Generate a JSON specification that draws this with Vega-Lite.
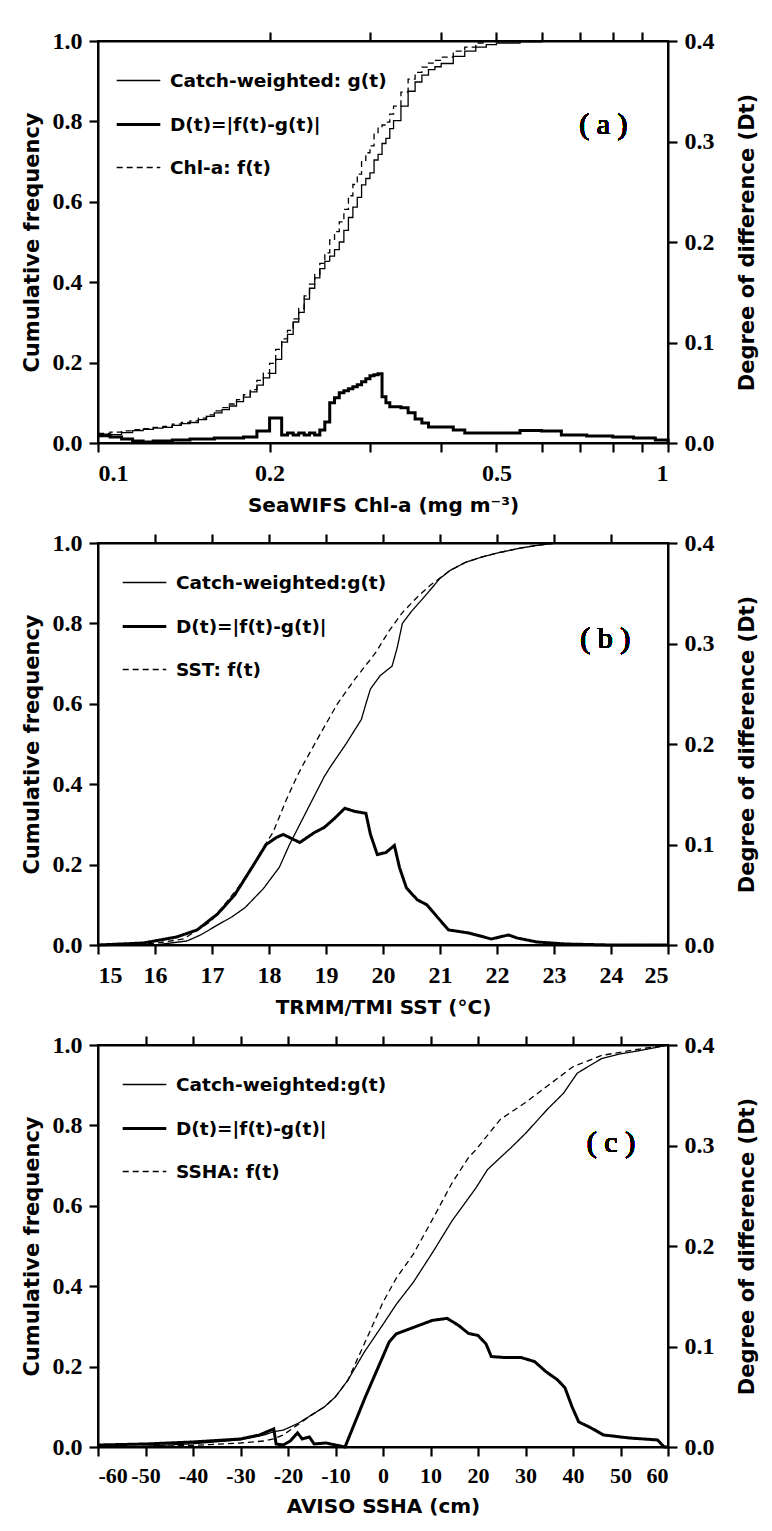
{
 "$schema": "https://vega.github.io/schema/vega-lite/v6.json",
 "padding": {"left": 20, "top": 28, "right": 5, "bottom": 5},
 "spacing": 14,
 "config": {
  "view": {"stroke": "black", "strokeWidth": 2},
  "axis": {"labelFont": "Liberation Serif", "labelFontSize": 24, "labelFontWeight": "bold", "labelColor": "black",
           "titleFont": "DejaVu Sans", "titleFontSize": 20, "titleFontWeight": "bold", "titleColor": "black",
           "domainColor": "black", "domainWidth": 2, "tickColor": "black", "tickWidth": 2.2, "tickSize": 9, "ticks": true,
           "grid": false, "labelPadding": 7, "titlePadding": 10, "labelOverlap": false},
  "axisX": {"labelPadding": 9, "titlePadding": 10},
  "axisY": {"titleFontSize": 21},
  "axisRight": {"titlePadding": 22},
  "legend": {"labelFont": "DejaVu Sans", "labelFontSize": 18.5, "labelFontWeight": "bold", "labelColor": "black",
             "symbolStrokeColor": "black", "symbolType": "stroke", "symbolSize": 1900, "rowPadding": 11,
             "labelOffset": 8, "padding": 0, "labelLimit": 400}
 },
 "datasets": {
  "a": [
   {"x":0.100,"f":0.024,"g":0.016,"D":0.008},{"x":0.105,"f":0.027,"g":0.021,"D":0.006},{"x":0.110,"f":0.030,"g":0.026,"D":0.004},
   {"x":0.115,"f":0.033,"g":0.031,"D":0.002},{"x":0.120,"f":0.036,"g":0.034,"D":0.001},{"x":0.125,"f":0.039,"g":0.037,"D":0.002},
   {"x":0.130,"f":0.041,"g":0.039,"D":0.002},{"x":0.135,"f":0.047,"g":0.044,"D":0.003},{"x":0.140,"f":0.051,"g":0.048,"D":0.003},
   {"x":0.145,"f":0.055,"g":0.051,"D":0.004},{"x":0.150,"f":0.062,"g":0.058,"D":0.004},{"x":0.155,"f":0.070,"g":0.066,"D":0.004},
   {"x":0.160,"f":0.080,"g":0.075,"D":0.005},{"x":0.165,"f":0.088,"g":0.083,"D":0.005},{"x":0.170,"f":0.097,"g":0.092,"D":0.005},
   {"x":0.175,"f":0.108,"g":0.103,"D":0.005},{"x":0.180,"f":0.120,"g":0.114,"D":0.006},{"x":0.185,"f":0.133,"g":0.127,"D":0.006},
   {"x":0.190,"f":0.156,"g":0.144,"D":0.012},{"x":0.195,"f":0.174,"g":0.162,"D":0.012},{"x":0.200,"f":0.198,"g":0.173,"D":0.025},
   {"x":0.205,"f":0.233,"g":0.208,"D":0.025},{"x":0.210,"f":0.259,"g":0.251,"D":0.008},{"x":0.215,"f":0.280,"g":0.270,"D":0.010},
   {"x":0.220,"f":0.309,"g":0.301,"D":0.008},{"x":0.225,"f":0.335,"g":0.325,"D":0.010},{"x":0.230,"f":0.366,"g":0.358,"D":0.008},
   {"x":0.235,"f":0.395,"g":0.385,"D":0.010},{"x":0.240,"f":0.419,"g":0.411,"D":0.008},{"x":0.245,"f":0.447,"g":0.434,"D":0.013},
   {"x":0.250,"f":0.473,"g":0.452,"D":0.021},{"x":0.255,"f":0.505,"g":0.465,"D":0.040},{"x":0.260,"f":0.526,"g":0.481,"D":0.045},
   {"x":0.265,"f":0.550,"g":0.500,"D":0.050},{"x":0.270,"f":0.581,"g":0.529,"D":0.052},{"x":0.275,"f":0.615,"g":0.561,"D":0.054},
   {"x":0.280,"f":0.643,"g":0.587,"D":0.056},{"x":0.285,"f":0.669,"g":0.611,"D":0.058},{"x":0.290,"f":0.703,"g":0.642,"D":0.061},
   {"x":0.295,"f":0.722,"g":0.658,"D":0.064},{"x":0.300,"f":0.739,"g":0.672,"D":0.067},{"x":0.305,"f":0.772,"g":0.704,"D":0.068},
   {"x":0.310,"f":0.787,"g":0.718,"D":0.069},{"x":0.315,"f":0.791,"g":0.745,"D":0.046},{"x":0.320,"f":0.798,"g":0.758,"D":0.040},
   {"x":0.325,"f":0.818,"g":0.782,"D":0.036},{"x":0.330,"f":0.838,"g":0.802,"D":0.036},{"x":0.340,"f":0.873,"g":0.838,"D":0.035},
   {"x":0.350,"f":0.905,"g":0.875,"D":0.030},{"x":0.360,"f":0.922,"g":0.898,"D":0.024},{"x":0.370,"f":0.935,"g":0.915,"D":0.020},
   {"x":0.380,"f":0.945,"g":0.929,"D":0.016},{"x":0.390,"f":0.952,"g":0.936,"D":0.016},{"x":0.400,"f":0.960,"g":0.944,"D":0.016},
   {"x":0.420,"f":0.975,"g":0.962,"D":0.013},{"x":0.440,"f":0.985,"g":0.975,"D":0.010},{"x":0.460,"f":0.995,"g":0.985,"D":0.010},
   {"x":0.480,"f":1.000,"g":0.991,"D":0.010},{"x":0.500,"f":1.000,"g":0.995,"D":0.010},{"x":0.550,"f":1.000,"g":0.998,"D":0.0125},
   {"x":0.600,"f":1.000,"g":1.000,"D":0.012},{"x":0.650,"f":1.000,"g":1.000,"D":0.008},{"x":0.720,"f":1.000,"g":1.000,"D":0.007},
   {"x":0.800,"f":1.000,"g":1.000,"D":0.006},{"x":0.870,"f":1.000,"g":1.000,"D":0.005},{"x":0.950,"f":1.000,"g":1.000,"D":0.003},
   {"x":1.000,"f":1.000,"g":1.000,"D":0.000}
  ],
  "b": [
   {"s":"f","x":15,"v":0},{"s":"f","x":15.5,"v":0.001},{"s":"f","x":16,"v":0.004},{"s":"f","x":16.5,"v":0.015},
   {"s":"f","x":16.99,"v":0.06},{"s":"f","x":17.46,"v":0.143},{"s":"f","x":17.77,"v":0.21},{"s":"f","x":17.9,"v":0.243},
   {"s":"f","x":18.07,"v":0.28},{"s":"f","x":18.3,"v":0.36},{"s":"f","x":18.49,"v":0.419},{"s":"f","x":18.58,"v":0.444},
   {"s":"f","x":18.9,"v":0.525},{"s":"f","x":19.2,"v":0.6},{"s":"f","x":19.5,"v":0.66},{"s":"f","x":19.87,"v":0.727},
   {"s":"f","x":20.1,"v":0.78},{"s":"f","x":20.34,"v":0.827},{"s":"f","x":20.6,"v":0.865},{"s":"f","x":20.83,"v":0.895},
   {"s":"f","x":21.18,"v":0.932},{"s":"f","x":21.45,"v":0.952},{"s":"f","x":21.73,"v":0.965},{"s":"f","x":22,"v":0.975},
   {"s":"f","x":22.4,"v":0.987},{"s":"f","x":22.7,"v":0.994},{"s":"f","x":23.05,"v":1},{"s":"f","x":25,"v":1},
   {"s":"g","x":15,"v":0},{"s":"g","x":16,"v":0},{"s":"g","x":16.56,"v":0.01},{"s":"g","x":16.8,"v":0.025},
   {"s":"g","x":17.1,"v":0.05},{"s":"g","x":17.35,"v":0.07},{"s":"g","x":17.58,"v":0.093},{"s":"g","x":17.9,"v":0.14},
   {"s":"g","x":18.18,"v":0.193},{"s":"g","x":18.36,"v":0.25},{"s":"g","x":18.67,"v":0.336},{"s":"g","x":18.97,"v":0.419},
   {"s":"g","x":19.08,"v":0.444},{"s":"g","x":19.35,"v":0.5},{"s":"g","x":19.62,"v":0.561},{"s":"g","x":19.7,"v":0.6},
   {"s":"g","x":19.78,"v":0.637},{"s":"g","x":19.95,"v":0.67},{"s":"g","x":20.16,"v":0.694},{"s":"g","x":20.25,"v":0.74},
   {"s":"g","x":20.34,"v":0.8},{"s":"g","x":20.5,"v":0.83},{"s":"g","x":20.7,"v":0.862},{"s":"g","x":21,"v":0.912},
   {"s":"g","x":21.18,"v":0.932},{"s":"g","x":21.45,"v":0.952},{"s":"g","x":21.73,"v":0.965},{"s":"g","x":22,"v":0.975},
   {"s":"g","x":22.4,"v":0.987},{"s":"g","x":22.7,"v":0.994},{"s":"g","x":23.05,"v":1},{"s":"g","x":25,"v":1},
   {"s":"D","x":15,"v":0},{"s":"D","x":15.8,"v":0.002},{"s":"D","x":16.38,"v":0.008},{"s":"D","x":16.74,"v":0.015},
   {"s":"D","x":17.1,"v":0.031},{"s":"D","x":17.4,"v":0.05},{"s":"D","x":17.7,"v":0.077},{"s":"D","x":17.95,"v":0.1},
   {"s":"D","x":18.13,"v":0.107},{"s":"D","x":18.25,"v":0.11},{"s":"D","x":18.43,"v":0.105},{"s":"D","x":18.54,"v":0.102},
   {"s":"D","x":18.8,"v":0.112},{"s":"D","x":18.97,"v":0.117},{"s":"D","x":19.15,"v":0.126},{"s":"D","x":19.33,"v":0.136},
   {"s":"D","x":19.5,"v":0.133},{"s":"D","x":19.7,"v":0.131},{"s":"D","x":19.78,"v":0.11},{"s":"D","x":19.9,"v":0.09},
   {"s":"D","x":20.05,"v":0.092},{"s":"D","x":20.2,"v":0.099},{"s":"D","x":20.29,"v":0.077},{"s":"D","x":20.41,"v":0.057},
   {"s":"D","x":20.6,"v":0.045},{"s":"D","x":20.77,"v":0.04},{"s":"D","x":20.95,"v":0.028},{"s":"D","x":21.15,"v":0.015},
   {"s":"D","x":21.5,"v":0.012},{"s":"D","x":21.9,"v":0.006},{"s":"D","x":22.2,"v":0.01},{"s":"D","x":22.35,"v":0.007},
   {"s":"D","x":22.7,"v":0.003},{"s":"D","x":23.2,"v":0.001},{"s":"D","x":24,"v":0},{"s":"D","x":25,"v":0}
  ],
  "c": [
   {"s":"f","x":-60,"v":0},{"s":"f","x":-50,"v":0.001},{"s":"f","x":-40,"v":0.004},{"s":"f","x":-30,"v":0.01},
   {"s":"f","x":-25,"v":0.015},{"s":"f","x":-23,"v":0.02},{"s":"f","x":-21,"v":0.03},{"s":"f","x":-18,"v":0.055},
   {"s":"f","x":-15,"v":0.08},{"s":"f","x":-12.3,"v":0.1},{"s":"f","x":-10,"v":0.125},{"s":"f","x":-7.4,"v":0.166},
   {"s":"f","x":-4,"v":0.255},{"s":"f","x":0,"v":0.36},{"s":"f","x":2.8,"v":0.42},{"s":"f","x":6.4,"v":0.48},
   {"s":"f","x":10.6,"v":0.57},{"s":"f","x":14.5,"v":0.656},{"s":"f","x":18,"v":0.72},{"s":"f","x":19.6,"v":0.74},
   {"s":"f","x":24.7,"v":0.815},{"s":"f","x":30,"v":0.857},{"s":"f","x":34.6,"v":0.898},{"s":"f","x":40,"v":0.946},
   {"s":"f","x":46,"v":0.974},{"s":"f","x":54,"v":0.99},{"s":"f","x":60,"v":1},
   {"s":"g","x":-60,"v":0},{"s":"g","x":-50,"v":0.002},{"s":"g","x":-40,"v":0.008},{"s":"g","x":-30,"v":0.018},
   {"s":"g","x":-25,"v":0.03},{"s":"g","x":-23,"v":0.038},{"s":"g","x":-21,"v":0.042},{"s":"g","x":-18,"v":0.058},
   {"s":"g","x":-15,"v":0.08},{"s":"g","x":-12.3,"v":0.1},{"s":"g","x":-10,"v":0.125},{"s":"g","x":-7.4,"v":0.166},
   {"s":"g","x":-4,"v":0.235},{"s":"g","x":0,"v":0.305},{"s":"g","x":2.8,"v":0.355},{"s":"g","x":6.4,"v":0.41},
   {"s":"g","x":10.6,"v":0.487},{"s":"g","x":14.5,"v":0.562},{"s":"g","x":19.6,"v":0.645},{"s":"g","x":22,"v":0.69},
   {"s":"g","x":24.7,"v":0.72},{"s":"g","x":27,"v":0.745},{"s":"g","x":30,"v":0.78},{"s":"g","x":34.6,"v":0.84},
   {"s":"g","x":38,"v":0.88},{"s":"g","x":40.9,"v":0.93},{"s":"g","x":43,"v":0.945},{"s":"g","x":46,"v":0.966},
   {"s":"g","x":50,"v":0.978},{"s":"g","x":54,"v":0.986},{"s":"g","x":58,"v":0.995},{"s":"g","x":60,"v":1},
   {"s":"D","x":-60,"v":0.002},{"s":"D","x":-50,"v":0.003},{"s":"D","x":-40,"v":0.005},{"s":"D","x":-30,"v":0.008},
   {"s":"D","x":-26,"v":0.012},{"s":"D","x":-24,"v":0.016},{"s":"D","x":-23,"v":0.018},{"s":"D","x":-22.5,"v":0.003},
   {"s":"D","x":-21,"v":0.002},{"s":"D","x":-19.5,"v":0.006},{"s":"D","x":-18,"v":0.014},{"s":"D","x":-17,"v":0.008},
   {"s":"D","x":-15.5,"v":0.01},{"s":"D","x":-14.5,"v":0.003},{"s":"D","x":-12,"v":0.004},{"s":"D","x":-10,"v":0.002},
   {"s":"D","x":-8,"v":0},{"s":"D","x":-3.7,"v":0.05},{"s":"D","x":1.3,"v":0.1045},{"s":"D","x":2.8,"v":0.1126},
   {"s":"D","x":7,"v":0.12},{"s":"D","x":10.4,"v":0.126},{"s":"D","x":13.5,"v":0.128},{"s":"D","x":15.9,"v":0.121},
   {"s":"D","x":18,"v":0.113},{"s":"D","x":20,"v":0.111},{"s":"D","x":21.7,"v":0.1025},{"s":"D","x":22.8,"v":0.09},
   {"s":"D","x":25.7,"v":0.089},{"s":"D","x":29.1,"v":0.089},{"s":"D","x":31.9,"v":0.085},{"s":"D","x":34.3,"v":0.075},
   {"s":"D","x":36.7,"v":0.067},{"s":"D","x":38.3,"v":0.059},{"s":"D","x":39.8,"v":0.04},{"s":"D","x":41.2,"v":0.025},
   {"s":"D","x":43.8,"v":0.019},{"s":"D","x":46.4,"v":0.012},{"s":"D","x":51.8,"v":0.009},{"s":"D","x":57.8,"v":0.007},
   {"s":"D","x":59.2,"v":0},{"s":"D","x":60,"v":0}
  ]
 },
 "resolve": {"scale": {"strokeDash": "independent", "strokeWidth": "independent"}, "legend": {"strokeDash": "independent", "strokeWidth": "independent"}},
 "vconcat": [
  {
   "width": 570, "height": 402,
   "data": {"name": "a"},
   "layer": [
    {"mark": {"type": "line", "interpolate": "step-after", "color": "black"},
     "encoding": {
      "x": {"field": "x", "type": "quantitative", "scale": {"type": "log", "domain": [0.1, 1], "nice": false},
            "axis": {"orient": "bottom", "title": "SeaWIFS Chl-a (mg m⁻³)", "values": [0.1,0.2,0.3,0.4,0.5,0.6,0.7,0.8,0.9,1],
                     "labelExpr": "(datum.value==0.1||datum.value==0.2||datum.value==0.5) ? format(datum.value,'.1f') : (datum.value==1 ? '1' : '')"}},
      "y": {"field": "g", "type": "quantitative", "scale": {"domain": [0, 1], "nice": false},
            "axis": {"title": "Cumulative frequency", "values": [0,0.2,0.4,0.6,0.8,1], "format": ".1f"}},
      "strokeDash": {"datum": "Catch-weighted: g(t)", "type": "nominal",
                     "scale": {"domain": ["Catch-weighted: g(t)", "D(t)=|f(t)-g(t)|", "Chl-a: f(t)"], "range": [[1,0],[1,0],[6,4]]},
                     "legend": {"title": null, "orient": "none", "legendX": 17, "legendY": 17}},
      "strokeWidth": {"datum": "Catch-weighted: g(t)", "type": "ordinal",
                     "scale": {"type": "ordinal", "domain": ["Catch-weighted: g(t)", "D(t)=|f(t)-g(t)|", "Chl-a: f(t)"], "range": [1.3, 3, 1.3]},
                     "legend": {"title": null, "orient": "none", "legendX": 17, "legendY": 17}}
     }},
    {"mark": {"type": "line", "interpolate": "step-after", "color": "black"},
     "encoding": {
      "x": {"field": "x", "type": "quantitative", "scale": {"type": "log", "domain": [0.1, 1], "nice": false},
            "axis": {"orient": "top", "labels": false, "title": null, "values": [0.2,0.3,0.4,0.5,0.6,0.7,0.8,0.9]}},
      "y": {"field": "f", "type": "quantitative", "scale": {"domain": [0, 1], "nice": false}, "axis": null},
      "strokeDash": {"datum": "Chl-a: f(t)", "type": "nominal",
                     "scale": {"domain": ["Catch-weighted: g(t)", "D(t)=|f(t)-g(t)|", "Chl-a: f(t)"], "range": [[1,0],[1,0],[6,4]]},
                     "legend": {"title": null, "orient": "none", "legendX": 17, "legendY": 17}},
      "strokeWidth": {"datum": "Chl-a: f(t)", "type": "ordinal",
                     "scale": {"type": "ordinal", "domain": ["Catch-weighted: g(t)", "D(t)=|f(t)-g(t)|", "Chl-a: f(t)"], "range": [1.3, 3, 1.3]},
                     "legend": {"title": null, "orient": "none", "legendX": 17, "legendY": 17}}
     }},
    {"mark": {"type": "text", "font": "Liberation Serif", "fontSize": 30, "color": "black"},
     "encoding": {"x": {"datum": 0.77, "type": "quantitative", "scale": {"type": "log", "domain": [0.1, 1], "nice": false}, "axis": null},
                  "y": {"datum": 0.79, "type": "quantitative", "scale": {"domain": [0, 1], "nice": false}, "axis": null},
                  "text": {"value": "( a )"}}},
    {"mark": {"type": "line", "interpolate": "step-after", "color": "black"},
     "encoding": {
      "x": {"field": "x", "type": "quantitative", "scale": {"type": "log", "domain": [0.1, 1], "nice": false}, "axis": null},
      "y": {"field": "D", "type": "quantitative", "scale": {"domain": [0, 0.4], "nice": false},
            "axis": {"orient": "right", "title": "Degree of difference (Dt)", "values": [0,0.1,0.2,0.3,0.4], "format": ".1f", "titleAngle": 270, "titleBaseline": "top"}},
      "strokeDash": {"datum": "D(t)=|f(t)-g(t)|", "type": "nominal",
                     "scale": {"domain": ["Catch-weighted: g(t)", "D(t)=|f(t)-g(t)|", "Chl-a: f(t)"], "range": [[1,0],[1,0],[6,4]]},
                     "legend": {"title": null, "orient": "none", "legendX": 17, "legendY": 17}},
      "strokeWidth": {"datum": "D(t)=|f(t)-g(t)|", "type": "ordinal",
                     "scale": {"type": "ordinal", "domain": ["Catch-weighted: g(t)", "D(t)=|f(t)-g(t)|", "Chl-a: f(t)"], "range": [1.3, 3, 1.3]},
                     "legend": {"title": null, "orient": "none", "legendX": 17, "legendY": 17}}
     }}
   ],
   "resolve": {"scale": {"y": "independent", "x": "independent"}}
  },
  {
   "width": 570, "height": 402,
   "data": {"name": "b"},
   "layer": [
    {"transform": [{"filter": {"field": "s", "equal": "g"}}],
     "mark": {"type": "line", "color": "black"},
     "encoding": {
      "x": {"field": "x", "type": "quantitative", "scale": {"domain": [15, 25], "nice": false, "zero": false},
            "axis": {"orient": "bottom", "title": "TRMM/TMI SST (°C)", "values": [15,16,17,18,19,20,21,22,23,24,25], "format": "d"}},
      "y": {"field": "v", "type": "quantitative", "scale": {"domain": [0, 1], "nice": false},
            "axis": {"title": "Cumulative frequency", "values": [0,0.2,0.4,0.6,0.8,1], "format": ".1f"}},
      "strokeDash": {"datum": "Catch-weighted:g(t)", "type": "nominal",
                     "scale": {"domain": ["Catch-weighted:g(t)", "D(t)=|f(t)-g(t)|", "SST: f(t)"], "range": [[1,0],[1,0],[6,4]]},
                     "legend": {"title": null, "orient": "none", "legendX": 23, "legendY": 17}},
      "strokeWidth": {"datum": "Catch-weighted:g(t)", "type": "ordinal",
                     "scale": {"type": "ordinal", "domain": ["Catch-weighted:g(t)", "D(t)=|f(t)-g(t)|", "SST: f(t)"], "range": [1.3, 3, 1.3]},
                     "legend": {"title": null, "orient": "none", "legendX": 23, "legendY": 17}}
     }},
    {"transform": [{"filter": {"field": "s", "equal": "f"}}],
     "mark": {"type": "line", "color": "black"},
     "encoding": {
      "x": {"field": "x", "type": "quantitative", "scale": {"domain": [15, 25], "nice": false, "zero": false},
            "axis": {"orient": "top", "labels": false, "title": null, "values": [16,17,18,19,20,21,22,23,24]}},
      "y": {"field": "v", "type": "quantitative", "scale": {"domain": [0, 1], "nice": false}, "axis": null},
      "strokeDash": {"datum": "SST: f(t)", "type": "nominal",
                     "scale": {"domain": ["Catch-weighted:g(t)", "D(t)=|f(t)-g(t)|", "SST: f(t)"], "range": [[1,0],[1,0],[6,4]]},
                     "legend": {"title": null, "orient": "none", "legendX": 23, "legendY": 17}},
      "strokeWidth": {"datum": "SST: f(t)", "type": "ordinal",
                     "scale": {"type": "ordinal", "domain": ["Catch-weighted:g(t)", "D(t)=|f(t)-g(t)|", "SST: f(t)"], "range": [1.3, 3, 1.3]},
                     "legend": {"title": null, "orient": "none", "legendX": 23, "legendY": 17}}
     }},
    {"mark": {"type": "text", "font": "Liberation Serif", "fontSize": 30, "color": "black"},
     "encoding": {"x": {"datum": 23.9, "type": "quantitative", "scale": {"domain": [15, 25], "nice": false, "zero": false}, "axis": null},
                  "y": {"datum": 0.76, "type": "quantitative", "scale": {"domain": [0, 1], "nice": false}, "axis": null},
                  "text": {"value": "( b )"}}},
    {"transform": [{"filter": {"field": "s", "equal": "D"}}],
     "mark": {"type": "line", "color": "black"},
     "encoding": {
      "x": {"field": "x", "type": "quantitative", "scale": {"domain": [15, 25], "nice": false, "zero": false}, "axis": null},
      "y": {"field": "v", "type": "quantitative", "scale": {"domain": [0, 0.4], "nice": false},
            "axis": {"orient": "right", "title": "Degree of difference (Dt)", "values": [0,0.1,0.2,0.3,0.4], "format": ".1f", "titleAngle": 270, "titleBaseline": "top"}},
      "strokeDash": {"datum": "D(t)=|f(t)-g(t)|", "type": "nominal",
                     "scale": {"domain": ["Catch-weighted:g(t)", "D(t)=|f(t)-g(t)|", "SST: f(t)"], "range": [[1,0],[1,0],[6,4]]},
                     "legend": {"title": null, "orient": "none", "legendX": 23, "legendY": 17}},
      "strokeWidth": {"datum": "D(t)=|f(t)-g(t)|", "type": "ordinal",
                     "scale": {"type": "ordinal", "domain": ["Catch-weighted:g(t)", "D(t)=|f(t)-g(t)|", "SST: f(t)"], "range": [1.3, 3, 1.3]},
                     "legend": {"title": null, "orient": "none", "legendX": 23, "legendY": 17}}
     }}
   ],
   "resolve": {"scale": {"y": "independent", "x": "independent"}}
  },
  {
   "width": 570, "height": 402,
   "data": {"name": "c"},
   "layer": [
    {"transform": [{"filter": {"field": "s", "equal": "g"}}],
     "mark": {"type": "line", "color": "black"},
     "encoding": {
      "x": {"field": "x", "type": "quantitative", "scale": {"domain": [-60, 60], "nice": false, "zero": false},
            "axis": {"orient": "bottom", "title": "AVISO SSHA (cm)", "values": [-60,-50,-40,-30,-20,-10,0,10,20,30,40,50,60], "labelExpr": "'' + datum.value", "labelFontSize": 22}},
      "y": {"field": "v", "type": "quantitative", "scale": {"domain": [0, 1], "nice": false},
            "axis": {"title": "Cumulative frequency", "values": [0,0.2,0.4,0.6,0.8,1], "format": ".1f"}},
      "strokeDash": {"datum": "Catch-weighted:g(t)", "type": "nominal",
                     "scale": {"domain": ["Catch-weighted:g(t)", "D(t)=|f(t)-g(t)|", "SSHA: f(t)"], "range": [[1,0],[1,0],[6,4]]},
                     "legend": {"title": null, "orient": "none", "legendX": 23, "legendY": 17}},
      "strokeWidth": {"datum": "Catch-weighted:g(t)", "type": "ordinal",
                     "scale": {"type": "ordinal", "domain": ["Catch-weighted:g(t)", "D(t)=|f(t)-g(t)|", "SSHA: f(t)"], "range": [1.3, 3, 1.3]},
                     "legend": {"title": null, "orient": "none", "legendX": 23, "legendY": 17}}
     }},
    {"transform": [{"filter": {"field": "s", "equal": "f"}}],
     "mark": {"type": "line", "color": "black"},
     "encoding": {
      "x": {"field": "x", "type": "quantitative", "scale": {"domain": [-60, 60], "nice": false, "zero": false},
            "axis": {"orient": "top", "labels": false, "title": null, "values": [-50,-40,-30,-20,-10,0,10,20,30,40,50]}},
      "y": {"field": "v", "type": "quantitative", "scale": {"domain": [0, 1], "nice": false}, "axis": null},
      "strokeDash": {"datum": "SSHA: f(t)", "type": "nominal",
                     "scale": {"domain": ["Catch-weighted:g(t)", "D(t)=|f(t)-g(t)|", "SSHA: f(t)"], "range": [[1,0],[1,0],[6,4]]},
                     "legend": {"title": null, "orient": "none", "legendX": 23, "legendY": 17}},
      "strokeWidth": {"datum": "SSHA: f(t)", "type": "ordinal",
                     "scale": {"type": "ordinal", "domain": ["Catch-weighted:g(t)", "D(t)=|f(t)-g(t)|", "SSHA: f(t)"], "range": [1.3, 3, 1.3]},
                     "legend": {"title": null, "orient": "none", "legendX": 23, "legendY": 17}}
     }},
    {"mark": {"type": "text", "font": "Liberation Serif", "fontSize": 30, "color": "black"},
     "encoding": {"x": {"datum": 48, "type": "quantitative", "scale": {"domain": [-60, 60], "nice": false, "zero": false}, "axis": null},
                  "y": {"datum": 0.755, "type": "quantitative", "scale": {"domain": [0, 1], "nice": false}, "axis": null},
                  "text": {"value": "( c )"}}},
    {"transform": [{"filter": {"field": "s", "equal": "D"}}],
     "mark": {"type": "line", "color": "black"},
     "encoding": {
      "x": {"field": "x", "type": "quantitative", "scale": {"domain": [-60, 60], "nice": false, "zero": false}, "axis": null},
      "y": {"field": "v", "type": "quantitative", "scale": {"domain": [0, 0.4], "nice": false},
            "axis": {"orient": "right", "title": "Degree of difference (Dt)", "values": [0,0.1,0.2,0.3,0.4], "format": ".1f", "titleAngle": 270, "titleBaseline": "top"}},
      "strokeDash": {"datum": "D(t)=|f(t)-g(t)|", "type": "nominal",
                     "scale": {"domain": ["Catch-weighted:g(t)", "D(t)=|f(t)-g(t)|", "SSHA: f(t)"], "range": [[1,0],[1,0],[6,4]]},
                     "legend": {"title": null, "orient": "none", "legendX": 23, "legendY": 17}},
      "strokeWidth": {"datum": "D(t)=|f(t)-g(t)|", "type": "ordinal",
                     "scale": {"type": "ordinal", "domain": ["Catch-weighted:g(t)", "D(t)=|f(t)-g(t)|", "SSHA: f(t)"], "range": [1.3, 3, 1.3]},
                     "legend": {"title": null, "orient": "none", "legendX": 23, "legendY": 17}}
     }}
   ],
   "resolve": {"scale": {"y": "independent", "x": "independent"}}
  }
 ]
}
